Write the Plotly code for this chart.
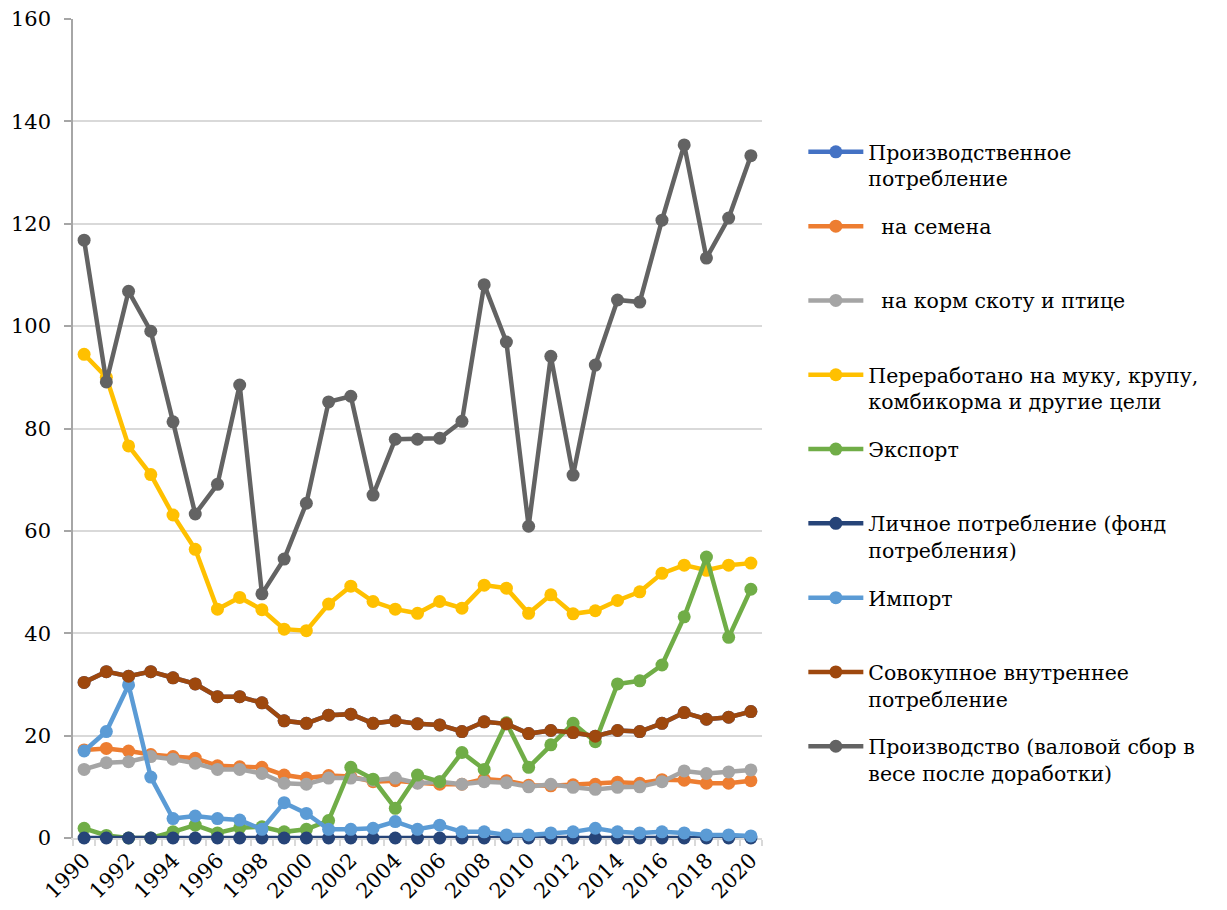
import plotly.graph_objects as go

years = list(range(1990, 2021))

# Зерновой баланс, млн т
proizv_potreb = [30.4, 32.5, 31.6, 32.5, 31.3, 30.1, 27.6, 27.6, 26.4, 22.9,
                 22.4, 24.0, 24.2, 22.4, 22.9, 22.3, 22.1, 20.8, 22.7, 22.3,
                 20.4, 21.0, 20.6, 19.9, 21.0, 20.8, 22.4, 24.5, 23.2, 23.6, 24.7]
semena = [17.2, 17.5, 17.0, 16.3, 15.9, 15.6, 14.1, 13.9, 13.8, 12.3,
          11.7, 12.2, 12.0, 11.0, 11.2, 10.8, 10.5, 10.5, 11.5, 11.2,
          10.3, 10.2, 10.4, 10.5, 10.9, 10.7, 11.4, 11.3, 10.7, 10.7, 11.2]
korm = [13.4, 14.7, 14.9, 15.9, 15.4, 14.6, 13.4, 13.4, 12.6, 10.7,
        10.5, 11.7, 11.7, 11.3, 11.7, 10.7, 11.0, 10.5, 11.0, 10.8,
        10.0, 10.5, 9.9, 9.5, 9.9, 10.0, 11.0, 13.1, 12.6, 12.9, 13.3]
pererabotano = [94.5, 90.0, 76.6, 71.0, 63.1, 56.4, 44.7, 47.0, 44.6, 40.8,
                40.5, 45.7, 49.2, 46.2, 44.7, 43.9, 46.2, 44.9, 49.4, 48.8,
                43.9, 47.5, 43.8, 44.4, 46.4, 48.1, 51.7, 53.3, 52.3, 53.3, 53.7]
eksport = [1.9, 0.5, 0.0, 0.0, 1.2, 2.5, 1.0, 2.0, 2.2, 1.2,
           1.7, 3.4, 13.8, 11.5, 5.8, 12.3, 11.0, 16.7, 13.4, 22.5,
           13.8, 18.2, 22.4, 18.8, 30.1, 30.7, 33.8, 43.2, 54.9, 39.2, 48.6]
lichnoe = [0.0] * 31
import_ = [17.0, 20.8, 29.9, 11.9, 3.8, 4.3, 3.8, 3.5, 1.7, 6.9,
           4.8, 1.7, 1.7, 1.9, 3.2, 1.7, 2.5, 1.2, 1.2, 0.6,
           0.6, 1.0, 1.2, 1.9, 1.2, 1.0, 1.2, 1.0, 0.6, 0.6, 0.4]
sovokupnoe = proizv_potreb
proizvodstvo = [116.8, 89.1, 106.8, 99.0, 81.3, 63.3, 69.1, 88.5, 47.7, 54.5,
                65.4, 85.2, 86.3, 67.0, 77.9, 77.9, 78.1, 81.4, 108.1, 96.9,
                60.9, 94.1, 70.9, 92.4, 105.1, 104.7, 120.7, 135.4, 113.3, 121.1, 133.3]

NB = "\u00a0"
series = [
    ("Производственное<br>потребление", proizv_potreb, "#4472C4"),
    (NB * 2 + "на семена<br>" + NB, semena, "#ED7D31"),
    (NB * 2 + "на корм скоту и птице<br>" + NB, korm, "#A5A5A5"),
    ("Переработано на муку, крупу,<br>комбикорма и другие цели", pererabotano, "#FFC000"),
    ("Экспорт<br>" + NB, eksport, "#70AD47"),
    ("Личное потребление (фонд<br>потребления)", lichnoe, "#264478"),
    ("Импорт<br>" + NB, import_, "#5B9BD5"),
    ("Совокупное внутреннее<br>потребление", sovokupnoe, "#9E480E"),
    ("Производство (валовой сбор в<br>весе после доработки)", proizvodstvo, "#636363"),
]

fig = go.Figure()
for i, (name, vals, color) in enumerate(series):
    fig.add_trace(go.Scatter(
        x=years, y=vals, name=name, mode="lines+markers",
        line=dict(color=color, width=4.5),
        marker=dict(color=color, size=13),
        legendgroup=f"g{i}", cliponaxis=False,
    ))

FONT = "DejaVu Serif"

fig.update_layout(
    width=1227, height=910,
    margin=dict(l=73, r=465, t=19, b=72, autoexpand=False),
    paper_bgcolor="white", plot_bgcolor="white",
    font=dict(family=FONT, size=21, color="black"),
    showlegend=True,
    legend=dict(
        x=1.06, xanchor="left", y=0.862, yanchor="top",
        valign="top", tracegroupgap=18, itemwidth=55,
        font=dict(family=FONT, size=20.5, color="black"),
        bgcolor="rgba(0,0,0,0)",
    ),
    xaxis=dict(
        range=[1989.5, 2020.5], automargin=False,
        tickmode="array", tickvals=list(range(1990, 2021, 2)),
        ticktext=[str(y) for y in range(1990, 2021, 2)],
        tickangle=-45, ticks="", showgrid=False, zeroline=False,
        showline=True, linecolor="#D9D9D9", linewidth=1.5, layer="below traces",
        minor=dict(ticks="outside", tick0=1989.5, dtick=1, ticklen=6,
                   tickcolor="#D9D9D9", tickwidth=1.5, showgrid=False),
        tickfont=dict(family=FONT, size=21),
    ),
    yaxis=dict(
        range=[0, 160], automargin=False,
        tickmode="array", tickvals=list(range(0, 161, 20)),
        showgrid=True, gridcolor="#D9D9D9", gridwidth=1.5, zeroline=False,
        showline=True, linecolor="#A6A6A6", linewidth=1.5, layer="below traces",
        ticks="outside", ticklen=7, tickcolor="#A6A6A6", tickwidth=1.5,
        tickfont=dict(family=FONT, size=21), ticklabelstandoff=9,
    ),
)

fig.write_html("out.html")
